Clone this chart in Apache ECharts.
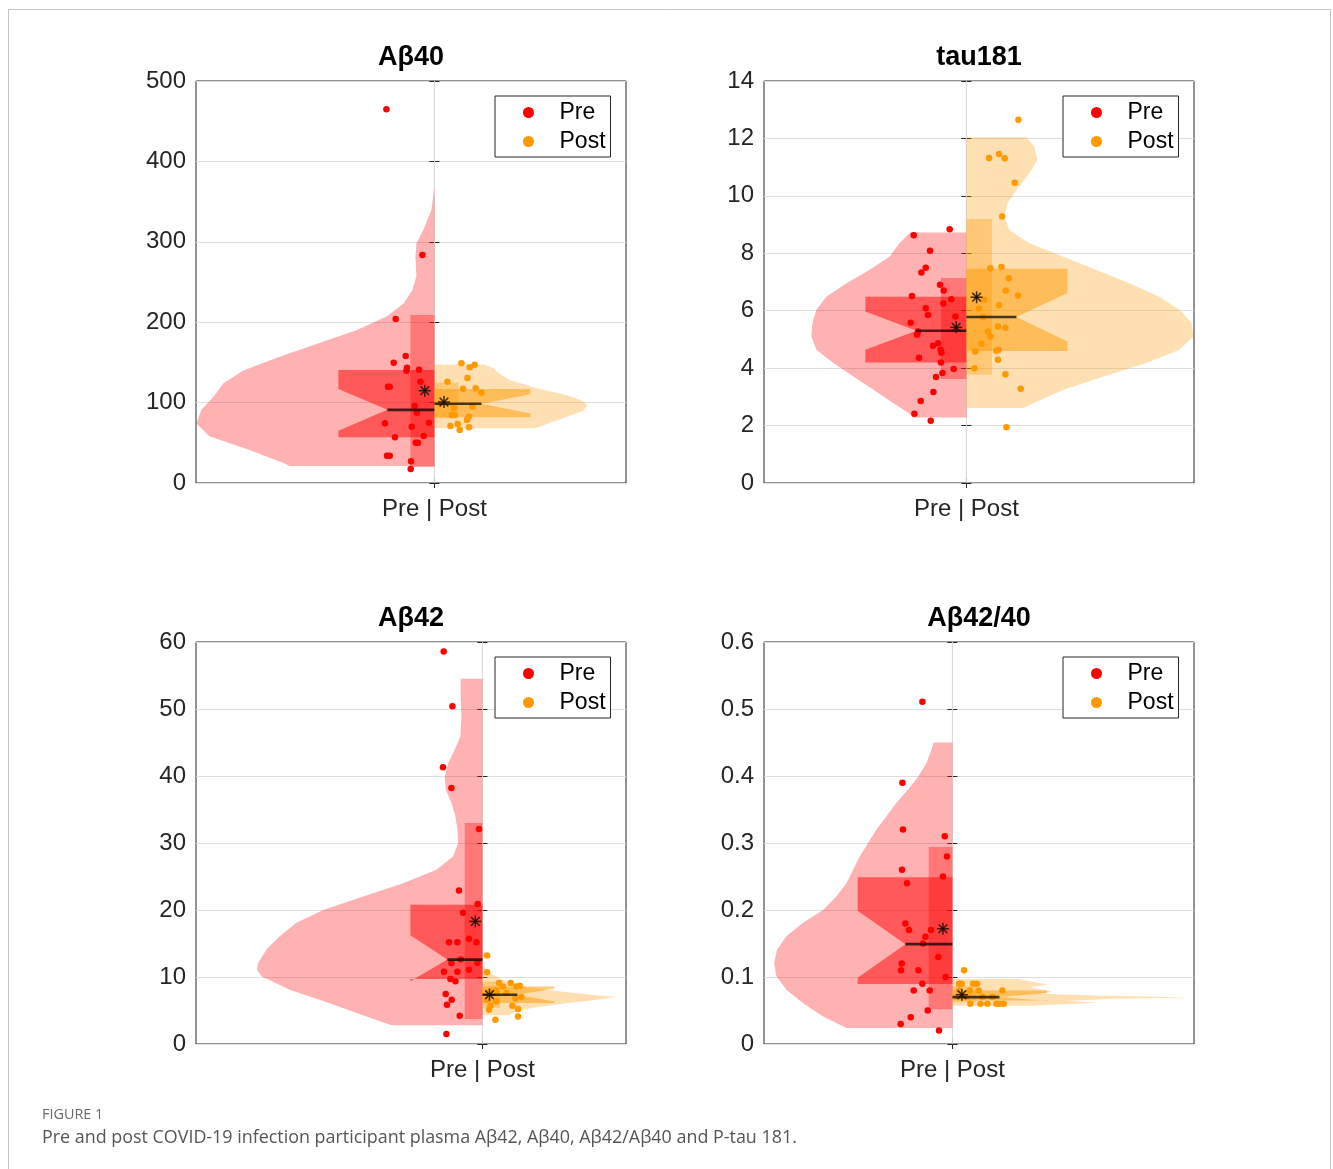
<!DOCTYPE html>
<html><head><meta charset="utf-8">
<script src="https://cdn.jsdelivr.net/npm/echarts@6/dist/echarts.min.js"></script>
<style>html,body{margin:0;padding:0;background:#fff}#c{width:1333px;height:1169px}</style>
</head><body><div id="c"></div>
<script>
// ================= DATA =================
const titles = ['Aβ40', 'tau181', 'Aβ42', 'Aβ42/40'];
const groupNames = ['Pre', 'Post'];
const xTickLabel = 'Pre | Post';
const yMaxes = [500, 14, 60, 0.6];
const yIntervals = [100, 2, 10, 0.1];
const captionLabel = 'FIGURE 1';
const captionText = 'Pre and post COVID-19 infection participant plasma Aβ42, Aβ40, Aβ42/Aβ40 and P-tau 181.';

// violin profiles: [value, half-width] from top to bottom
const ab40PreViolin = [[368,0],[340,0.03],[315,0.11],[298,0.18],[281,0.19],[257,0.18],[240,0.22],[223,0.31],[207,0.48],[190,0.78],[174,1.15],[157,1.55],[140,1.91],[124,2.11],[107,2.21],[91,2.33],[74,2.38],[58,2.25],[41,1.85],[25,1.51],[21,1.45]];
const ab40PostViolin = [[147.5,0.50],[142.7,0.59],[136,0.65],[128,0.75],[122,0.92],[117,1.05],[110,1.3],[103,1.47],[97,1.53],[90,1.49],[83,1.34],[76,1.18],[70,1.05],[68,1.0]];
const tauPreViolin = [[8.72,0.56],[8.35,0.67],[7.88,0.77],[7.42,0.97],[6.96,1.2],[6.49,1.4],[6.03,1.5],[5.57,1.54],[5.10,1.55],[4.64,1.5],[4.18,1.33],[3.71,1.13],[3.25,0.93],[2.78,0.73],[2.44,0.58],[2.28,0.53]];
const tauPostViolin = [[12.04,0.6],[11.71,0.68],[11.25,0.71],[10.79,0.63],[10.2,0.5],[9.74,0.41],[9.28,0.38],[8.81,0.43],[8.35,0.63],[7.88,0.97],[7.42,1.3],[6.96,1.63],[6.49,1.93],[6.03,2.13],[5.57,2.25],[5.10,2.27],[4.64,2.13],[4.18,1.8],[3.71,1.37],[3.25,0.97],[2.78,0.67],[2.61,0.57]];
const ab42PreViolin = [[54.5,0.217],[51.9,0.217],[48.9,0.21],[45.9,0.22],[43.9,0.277],[41.9,0.343],[39.9,0.377],[38.0,0.367],[36.0,0.31],[34.0,0.27],[32.0,0.25],[30.0,0.243],[28.0,0.293],[26.0,0.46],[24.0,0.793],[22.0,1.193],[20.0,1.593],[18.1,1.86],[16.1,2.027],[14.1,2.16],[12.1,2.243],[11.1,2.253],[10.1,2.21],[8.1,1.927],[6.1,1.527],[4.1,1.16],[2.8,0.91]];
const ab42PostViolin = [[11.9,0],[10.6,0.07],[9.6,0.2],[8.5,0.45],[7.8,0.8],[7.3,1.12],[7.0,1.34],[6.6,1.15],[6.1,0.84],[5.4,0.5],[4.7,0.3],[4.3,0.27]];
const ratioPreViolin = [[0.450,0.187],[0.439,0.21],[0.419,0.26],[0.399,0.343],[0.380,0.443],[0.360,0.56],[0.340,0.66],[0.320,0.76],[0.300,0.843],[0.280,0.927],[0.260,0.993],[0.240,1.06],[0.220,1.16],[0.200,1.293],[0.181,1.493],[0.161,1.66],[0.141,1.753],[0.121,1.783],[0.101,1.76],[0.081,1.66],[0.061,1.493],[0.041,1.293],[0.024,1.06]];
const ratioPostViolin = [[0.097,0.65],[0.093,0.8],[0.0885,0.96],[0.085,0.78],[0.082,0.85],[0.0785,1.0],[0.0755,0.88],[0.0725,1.4],[0.0695,2.39],[0.0675,1.6],[0.064,1.15],[0.0615,1.47],[0.059,1.05],[0.057,0.75]];

// notched box: [q1, notchLow, median, notchHigh, q3]
const ab40PreBox = [57, 65, 91, 117, 140.5];
const ab40PostBox = [81.7, 86.5, 98.5, 110.5, 117];
const tauPreBox = [4.20, 4.64, 5.30, 5.97, 6.49];
const tauPostBox = [4.60, 4.93, 5.78, 6.62, 7.46];
const ab42PreBox = [9.7, 9.35, 12.6, 16.25, 20.8];
const ab42PostBox = [6.12, 6.36, 7.36, 8.3, 8.6];
const ratioPreBox = [0.0895, 0.099, 0.149, 0.199, 0.249];
const ratioPostBox = [0.065, 0.064, 0.070, 0.076, 0.080];

// mean and mean ± SD band: [mean, low, high]
const ab40PreMean = [114.8, 20, 209];
const ab40PostMean = [100.7, 80.5, 124.8];
const tauPreMean = [5.42, 3.62, 7.14];
const tauPostMean = [6.47, 3.77, 9.19];
const ab42PreMean = [18.3, 3.73, 33.0];
const ab42PostMean = [7.36, 5.4, 9.3];
const ratioPreMean = [0.172, 0.052, 0.294];
const ratioPostMean = [0.0736, 0.062, 0.086];

// individual participants: [jitter, value]
const ab40PrePts = [[-0.48,464.8],[-0.12,283.6],[-0.387,204],[-0.287,158],[-0.407,149.6],[-0.274,143.4],[-0.28,139.7],[-0.154,141],[-0.14,126],[-0.464,119.8],[-0.447,119.8],[-0.197,95.8],[-0.174,87.4],[-0.494,74.2],[-0.227,70],[-0.054,75],[-0.394,56.8],[-0.107,58.5],[-0.187,50.2],[-0.164,50.2],[-0.474,34],[-0.447,34],[-0.234,27],[-0.237,17.4]];
const ab40PostPts = [[0.27,148.9],[0.353,143.9],[0.403,147.1],[0.13,126],[0.33,130.6],[0.286,117.3],[0.413,117.7],[0.47,112.3],[0.193,93.7],[0.38,95],[0.173,84.6],[0.2,84.6],[0.343,82.5],[0.326,78.4],[0.16,70.9],[0.233,73.4],[0.253,65.9],[0.346,69.3],[0.053,99]];
const tauPrePts = [[-0.167,8.84],[-0.527,8.63],[-0.364,8.09],[-0.407,7.50],[-0.45,7.33],[-0.264,6.90],[-0.227,6.70],[-0.544,6.51],[-0.15,6.40],[-0.23,6.25],[-0.407,6.09],[-0.384,5.85],[-0.11,5.80],[-0.557,5.58],[-0.484,5.28],[-0.494,5.16],[-0.284,4.87],[-0.334,4.78],[-0.257,4.64],[-0.25,4.54],[-0.474,4.36],[-0.254,4.20],[-0.127,3.97],[-0.24,3.83],[-0.304,3.69],[-0.33,3.17],[-0.457,2.86],[-0.52,2.41],[-0.357,2.17]];
const tauPostPts = [[0.52,12.65],[0.227,11.32],[0.327,11.46],[0.383,11.31],[0.483,10.46],[0.357,9.28],[0.24,7.48],[0.35,7.52],[0.423,7.13],[0.393,6.70],[0.516,6.53],[0.176,6.38],[0.326,6.19],[0.126,6.08],[0.166,5.78],[0.316,5.45],[0.39,5.41],[0.216,5.28],[0.24,5.10],[0.15,4.85],[0.3,4.61],[0.323,4.64],[0.09,4.58],[0.316,4.29],[0.08,4.00],[0.39,3.79],[0.543,3.28],[0.4,1.94]];
const ab42PrePts = [[-0.387,58.6],[-0.3,50.4],[-0.394,41.3],[-0.31,38.2],[-0.034,32.1],[-0.234,22.9],[-0.047,20.9],[-0.194,19.6],[-0.134,15.7],[-0.334,15.2],[-0.25,15.2],[-0.06,15.2],[-0.217,12.6],[-0.31,12.1],[-0.05,12.1],[-0.384,10.8],[-0.25,10.8],[-0.134,11.1],[-0.32,9.7],[-0.27,9.35],[-0.367,7.46],[-0.307,6.6],[-0.354,5.87],[-0.227,4.22],[-0.36,1.49]];
const ab42PostPts = [[0.046,13.2],[0.046,10.7],[0.166,9.1],[0.206,8.6],[0.283,9.1],[0.34,8.6],[0.373,8.7],[0.073,7.85],[0.14,8.0],[0.24,7.6],[0.39,7.0],[0.33,6.8],[0.046,6.6],[0.14,6.36],[0.08,5.72],[0.3,5.72],[0.066,5.12],[0.356,5.22],[0.356,4.12],[0.13,3.63]];
const ratioPrePts = [[-0.30,0.511],[-0.50,0.39],[-0.494,0.32],[-0.077,0.31],[-0.054,0.28],[-0.504,0.26],[-0.094,0.25],[-0.454,0.24],[-0.47,0.18],[-0.434,0.17],[-0.214,0.17],[-0.27,0.16],[-0.294,0.15],[-0.14,0.13],[-0.507,0.12],[-0.514,0.11],[-0.34,0.11],[-0.067,0.10],[-0.3,0.09],[-0.387,0.08],[-0.227,0.08],[-0.247,0.05],[-0.417,0.04],[-0.517,0.03],[-0.134,0.02]];
const ratioPostPts = [[0.117,0.11],[0.067,0.09],[0.093,0.09],[0.207,0.09],[0.247,0.09],[0.067,0.08],[0.173,0.08],[0.263,0.08],[0.5,0.08],[0.05,0.07],[0.14,0.07],[0.3,0.07],[0.4,0.07],[0.18,0.06],[0.28,0.06],[0.35,0.06],[0.44,0.06],[0.473,0.06],[0.513,0.06]];

// ================= LAYOUT / STYLE =================
const panels = [
  {left:196, top:81, xMin:-2.384, xMax:1.916, box:0.96, notch:0.47, rect:0.24, legL:495, legT:96, titleY:58,
   violins:[ab40PreViolin, ab40PostViolin], boxes:[ab40PreBox, ab40PostBox], means:[ab40PreMean, ab40PostMean], pts:[ab40PrePts, ab40PostPts]},
  {left:764, top:81, xMin:-2.024, xMax:2.276, box:1.01, notch:0.5, rect:0.255, legL:1063, legT:96, titleY:58,
   violins:[tauPreViolin, tauPostViolin], boxes:[tauPreBox, tauPostBox], means:[tauPreMean, tauPostMean], pts:[tauPrePts, tauPostPts]},
  {left:196, top:642, xMin:-2.864, xMax:1.436, box:0.72, notch:0.35, rect:0.177, legL:495, legT:657, titleY:619,
   violins:[ab42PreViolin, ab42PostViolin], boxes:[ab42PreBox, ab42PostBox], means:[ab42PreMean, ab42PostMean], pts:[ab42PrePts, ab42PostPts]},
  {left:764, top:642, xMin:-1.884, xMax:2.416, box:0.947, notch:0.47, rect:0.237, legL:1063, legT:657, titleY:619,
   violins:[ratioPreViolin, ratioPostViolin], boxes:[ratioPreBox, ratioPostBox], means:[ratioPreMean, ratioPostMean], pts:[ratioPrePts, ratioPostPts]}
];
const W = 430, H = 402;
const rgb = [[255,0,0],[255,153,0]];
const rgba = (c, a) => `rgba(${c[0]},${c[1]},${c[2]},${a})`;
const FONT = 'Liberation Sans, Arial, Helvetica, sans-serif';
const AX = '#262626';

function shapesRender(pi) {
  const P = panels[pi];
  return function (params, api) {
    const c = (x, y) => api.coord([x, y]);
    const ch = [];
    const t = c(0, yMaxes[pi]), b = c(0, 0);
    ch.push({type:'line', shape:{x1:t[0], y1:t[1], x2:b[0], y2:b[1]}, style:{stroke:'#d6d6d6', lineWidth:1}});
    for (let g = 0; g < 2; g++) {
      const s = g === 0 ? -1 : 1, prof = P.violins[g];
      const pts = [c(0, prof[0][0])].concat(prof.map(d => c(s * d[1], d[0]))).concat([c(0, prof[prof.length - 1][0])]);
      ch.push({type:'polygon', shape:{points:pts}, style:{fill:rgba(rgb[g], 0.3)}});
    }
    for (let g = 0; g < 2; g++) {
      const s = g === 0 ? -1 : 1, q = P.boxes[g];
      const B = s * P.box, N = s * P.notch;
      const pts = [c(0,q[4]), c(B,q[4]), c(B,q[3]), c(N,q[2]), c(B,q[1]), c(B,q[0]), c(0,q[0])];
      ch.push({type:'polygon', shape:{points:pts}, style:{fill:rgba(rgb[g], 0.5)}});
      const m = P.means[g];
      const p1 = c(0, m[2]), p2 = c(s * P.rect, m[1]);
      ch.push({type:'rect', shape:{x:Math.min(p1[0],p2[0]), y:p1[1], width:Math.abs(p2[0]-p1[0]), height:p2[1]-p1[1]}, style:{fill:rgba(rgb[g], 0.33)}});
    }
    return {type:'group', children:ch};
  };
}
function overlayRender(pi) {
  const P = panels[pi];
  return function (params, api) {
    const c = (x, y) => api.coord([x, y]);
    const ch = [];
    for (let g = 0; g < 2; g++) {
      const s = g === 0 ? -1 : 1, q = P.boxes[g], m = P.means[g];
      const a = c(0, q[2]), e = c(s * P.notch, q[2]);
      ch.push({type:'line', shape:{x1:a[0], y1:a[1], x2:e[0], y2:e[1]}, style:{stroke:'rgba(0,0,0,0.72)', lineWidth:2.6}});
      const k = c(s * 0.4 * P.rect, m[0]);
      const r = 6, d = r * 0.72;
      [[r,0],[0,r],[d,d],[d,-d]].forEach(v => ch.push({type:'line', shape:{x1:k[0]-v[0], y1:k[1]-v[1], x2:k[0]+v[0], y2:k[1]+v[1]}, style:{stroke:'rgba(30,15,5,0.85)', lineWidth:1.5}}));
    }
    return {type:'group', children:ch};
  };
}

const grid = [], xAxis = [], yAxis = [], series = [], legend = [], graphic = [];
panels.forEach((P, i) => {
  grid.push({left:P.left, top:P.top, width:W, height:H, show:true, borderColor:AX, borderWidth:1, backgroundColor:'transparent'});
  xAxis.push({type:'value', gridIndex:i, min:P.xMin, max:P.xMax, position:'bottom',
    axisLine:{show:false}, splitLine:{show:false},
    axisTick:{show:true, inside:true, length:5, customValues:[0], lineStyle:{color:AX}},
    axisLabel:{show:true, customValues:[0], formatter:() => xTickLabel, margin:14, fontSize:24, fontFamily:FONT, color:AX}});
  xAxis.push({type:'value', gridIndex:i, min:P.xMin, max:P.xMax, position:'top',
    axisLine:{show:false}, splitLine:{show:false}, axisLabel:{show:false},
    axisTick:{show:true, inside:true, length:5, customValues:[0], lineStyle:{color:AX}}});
  yAxis.push({type:'value', gridIndex:i, min:0, max:yMaxes[i], interval:yIntervals[i], position:'left',
    axisLine:{show:false}, axisTick:{show:true, inside:true, length:5, lineStyle:{color:AX}},
    splitLine:{show:true, lineStyle:{color:'#dedede', width:1}},
    axisLabel:{margin:10, fontSize:24, fontFamily:FONT, color:AX}});
  yAxis.push({type:'value', gridIndex:i, min:0, max:yMaxes[i], interval:yIntervals[i], position:'right',
    axisLine:{show:false}, axisTick:{show:true, inside:true, length:5, lineStyle:{color:AX}},
    splitLine:{show:false}, axisLabel:{show:false}});
  series.push({type:'custom', name:'shapes' + i, xAxisIndex:2*i, yAxisIndex:2*i, data:[[0,0]], clip:true, z:2, silent:true,
    renderItem:shapesRender(i)});
  for (let g = 0; g < 2; g++) {
    series.push({type:'scatter', name:groupNames[g], xAxisIndex:2*i, yAxisIndex:2*i, data:P.pts[g], symbolSize:6.5, z:3,
      itemStyle:{color:rgba(rgb[g],1), opacity:1}});
  }
  series.push({type:'custom', name:'overlay' + i, xAxisIndex:2*i, yAxisIndex:2*i, data:[[0,0]], clip:true, z:4, silent:true,
    renderItem:overlayRender(i)});
  legend.push({left:P.legL, top:P.legT, orient:'vertical', data:groupNames, icon:'circle', itemWidth:52, itemHeight:11, itemGap:6,
    padding:[5,5,4,28], borderColor:AX, borderWidth:1, backgroundColor:'#fff', selectedMode:false,
    textStyle:{fontSize:23, fontFamily:FONT, color:'#000', lineHeight:22}});
});

panels.forEach((P, i) => {
  graphic.push({type:'text', x:P.left + W/2, y:P.titleY, style:{text:titles[i], fontSize:27, fontWeight:'bold', fontFamily:FONT, fill:'#000', align:'center', verticalAlign:'middle'}});
});
graphic.push({type:'polyline', shape:{points:[[8.5,1169],[8.5,9.5],[1330.5,9.5],[1330.5,1169]]}, style:{stroke:'#c4c4c4', lineWidth:1, fill:null}});
graphic.push({type:'text', x:42, y:1115, style:{text:captionLabel, fontSize:14.4, fontFamily:'Open Sans, sans-serif', fill:'#6a6a6a', verticalAlign:'middle'}});
graphic.push({type:'text', x:42, y:1138, style:{text:captionText, fontSize:17.9, fontFamily:'Open Sans, sans-serif', fill:'#555', verticalAlign:'middle'}});

const chart = echarts.init(document.getElementById('c'), null, {renderer:'canvas'});
chart.setOption({animation:false, backgroundColor:'#fff', grid, xAxis, yAxis, series, legend, graphic});
</script></body></html>
